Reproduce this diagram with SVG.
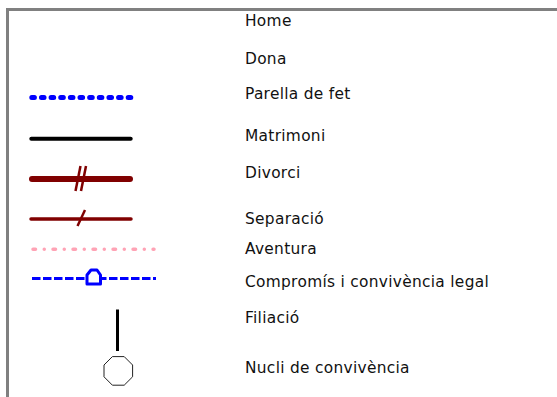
<svg xmlns="http://www.w3.org/2000/svg" width="557" height="397" viewBox="0 0 557 397">
<style>
text{font-family:"DejaVu Sans",Verdana,sans-serif;font-size:15.4px;letter-spacing:0.3px;fill:#111}
.red{stroke:#800000;fill:none}
</style>
<rect width="557" height="397" fill="#fff"/>
<g id="frame" fill="none" stroke="#808080" stroke-width="3">
<path d="M7.5,397 V9.5 H557"/>
</g>
<g id="labels">
<text x="245" y="26">Home</text>
<text x="245" y="64">Dona</text>
<text x="245" y="99">Parella de fet</text>
<text x="245" y="141">Matrimoni</text>
<text x="245" y="178">Divorci</text>
<text x="245" y="224">Separació</text>
<text x="245" y="254">Aventura</text>
<text x="245" y="287">Compromís i convivència legal</text>
<text x="245" y="323">Filiació</text>
<text x="245" y="373">Nucli de convivència</text>
</g>
<g id="connectors">
<g id="parella"><line x1="31.8" y1="97.5" x2="131" y2="97.5" stroke="#0000ff" stroke-width="5" stroke-linecap="round" stroke-dasharray="2.6 7.04"/></g>
<g id="matrimoni"><line x1="31.3" y1="138.7" x2="130.7" y2="138.7" stroke="#000" stroke-width="4" stroke-linecap="round"/></g>
<g id="divorci">
<line class="red" x1="32" y1="179" x2="130" y2="179" stroke-width="6" stroke-linecap="round"/>
<line class="red" x1="80.5" y1="166" x2="75.5" y2="191" stroke-width="2.5"/>
<line class="red" x1="86" y1="166" x2="81" y2="191" stroke-width="2.5"/>
</g>
<g id="separacio">
<line class="red" x1="31" y1="219" x2="131" y2="219" stroke-width="3.5" stroke-linecap="round"/>
<line class="red" x1="85" y1="210" x2="77.5" y2="226" stroke-width="2.5"/>
</g>
<g id="aventura"><line x1="33" y1="249.3" x2="154" y2="249.3" stroke="#ffa3b5" stroke-width="3.5" stroke-linecap="round" stroke-dasharray="2.5 8.75 0.01 8.75"/></g>
<g id="compromis">
<line x1="32" y1="278.5" x2="156" y2="278.5" stroke="#0000ff" stroke-width="3" stroke-dasharray="8.5 2.5"/>
<path d="M87,284 V275 L91,270 H97 L100.5,275 V284 Z" fill="#fff" stroke="#0000ff" stroke-width="3" stroke-linejoin="round"/>
</g>
<g id="filiacio"><line x1="117.5" y1="309.5" x2="117.5" y2="351" stroke="#000" stroke-width="3"/></g>
</g>
<g id="nucli">
<polygon points="112.4,356.6 124.2,356.6 132.6,365 132.6,376.8 124.2,385.2 112.4,385.2 104,376.8 104,365" fill="#fff" stroke="#222" stroke-width="1"/>
</g>
</svg>
